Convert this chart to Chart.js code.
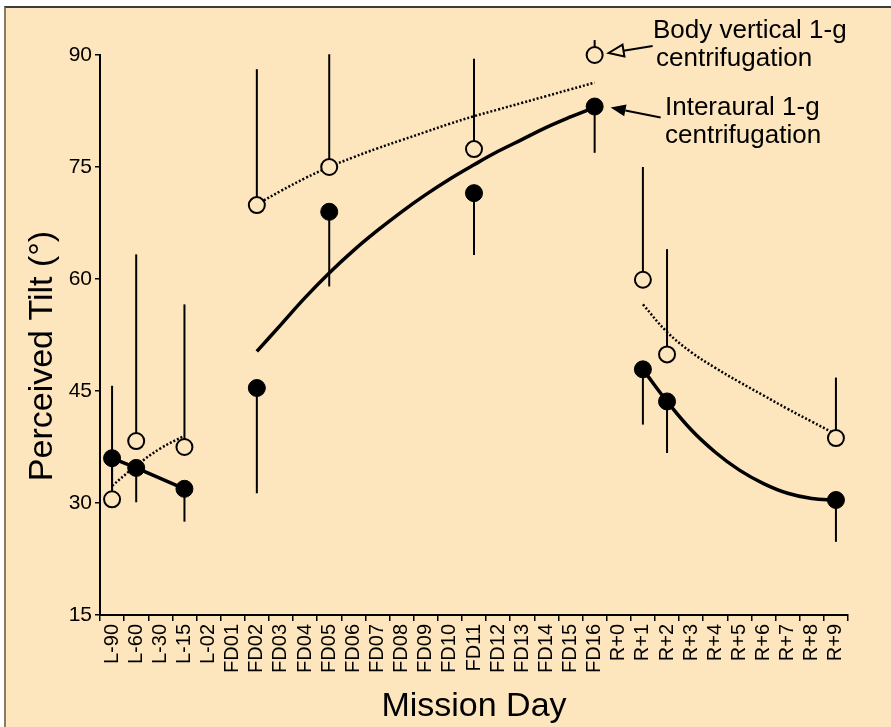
<!DOCTYPE html>
<html lang="en">
<head>
<meta charset="UTF-8">
<title>Perceived Tilt by Mission Day</title>
<script src="https://cdn.jsdelivr.net/npm/chart.js"></script>
<style>
  html, body { margin: 0; padding: 0; background: #fff; }
  .frame { position: absolute; left: 4px; top: 6px; width: 885px; height: 719px; background: #fde5bd; border-left: 2px solid #8b7b66; border-top: 2px solid #3c3c3c; }
  canvas { position: absolute; left: 0; top: 0; }
</style>
</head>
<body>
<div class="frame"></div>
<canvas id="tiltChart" width="891" height="727"></canvas>
<script>
const labels = ['L-90', 'L-60', 'L-30', 'L-15', 'L-02',
  'FD01', 'FD02', 'FD03', 'FD04', 'FD05', 'FD06', 'FD07', 'FD08', 'FD09', 'FD10',
  'FD11', 'FD12', 'FD13', 'FD14', 'FD15', 'FD16',
  'R+0', 'R+1', 'R+2', 'R+3', 'R+4', 'R+5', 'R+6', 'R+7', 'R+8', 'R+9'];

// measured days and means (open = body vertical, filled = interaural)
const measuredDays = ['L-90', 'L-60', 'L-15', 'FD02', 'FD05', 'FD11', 'FD16', 'R+1', 'R+2', 'R+9'];
const bodyVertical = [30.5, 38.3, 37.5, 69.9, 75.0, 77.4, 90.0, 59.9, 49.9, 38.7];
const bodyVerticalUpper = [45.7, 63.3, 56.6, 88.1, 90.1, 89.5, 92.0, 75.0, 64.0, 46.8];
const interaural = [36.0, 34.7, 31.9, 45.4, 69.0, 71.5, 83.1, 47.9, 43.6, 30.4];
const interauralLower = [31.8, 30.1, 27.5, 31.3, 59.0, 63.2, 76.9, 40.5, 36.7, 24.8];

// fitted curves
const preDays = ['L-90', 'L-60', 'L-30', 'L-15'];
const preFitBV = [32.3, 35.0, 37.3, 39.0];
const preFitIADays = ['L-90', 'L-60', 'L-15'];
const preFitIA = [36.0, 34.7, 31.9];
const flightDays = ['FD02', 'FD03', 'FD04', 'FD05', 'FD06', 'FD07', 'FD08', 'FD09', 'FD10', 'FD11', 'FD12', 'FD13', 'FD14', 'FD15', 'FD16'];
const flightFitBV = [70.0, 71.8, 73.5, 75.0, 76.3, 77.5, 78.6, 79.7, 80.8, 81.8, 82.7, 83.6, 84.5, 85.4, 86.3];
const flightFitIA = [50.3, 53.9, 57.5, 60.8, 63.8, 66.5, 69.0, 71.3, 73.4, 75.3, 77.1, 78.7, 80.3, 81.7, 83.0];
const recDays = ['R+1', 'R+2', 'R+3', 'R+4', 'R+5', 'R+6', 'R+7', 'R+8', 'R+9'];
const recFitBV = [56.6, 52.9, 50.2, 48.1, 46.2, 44.4, 42.6, 40.9, 39.2];
const recFitIA = [47.9, 43.6, 39.8, 36.8, 34.4, 32.6, 31.3, 30.6, 30.4];

const yTicks = [15, 30, 45, 60, 75, 90];

const BG = '#fde5bd';
const FONT = '"Liberation Sans", Arial, sans-serif';
const pairs = (days, vals) => days.map((d, i) => ({ x: d, y: vals[i] }));

function fitLine(days, vals, dotted, tension) {
  return {
    type: 'line',
    data: pairs(days, vals),
    borderColor: '#000',
    borderWidth: dotted ? 2.5 : 3.5,
    borderDash: dotted ? [2, 2] : [],
    pointRadius: 0,
    tension: tension,
    fill: false,
    clip: false
  };
}

function arrow(ctx, x1, y1, x2, y2, filled) {
  const a = Math.atan2(y2 - y1, x2 - x1);
  const len = 15, half = 6;
  const bx = x2 - len * Math.cos(a), by = y2 - len * Math.sin(a);
  ctx.beginPath(); ctx.moveTo(x1, y1); ctx.lineTo(bx, by); ctx.stroke();
  ctx.beginPath();
  ctx.moveTo(x2, y2);
  ctx.lineTo(bx + half * Math.sin(a), by - half * Math.cos(a));
  ctx.lineTo(bx - half * Math.sin(a), by + half * Math.cos(a));
  ctx.closePath();
  if (filled) ctx.fill(); else ctx.stroke();
}

const overlay = {
  id: 'overlay',
  beforeDatasetsDraw(chart) {
    const { ctx, scales: { x, y } } = chart;
    ctx.save();
    ctx.strokeStyle = '#000';
    ctx.lineWidth = 2;
    measuredDays.forEach((day, i) => {
      const px = x.getPixelForValue(labels.indexOf(day));
      [[bodyVertical[i], bodyVerticalUpper[i]], [interaural[i], interauralLower[i]]].forEach(([v, end]) => {
        ctx.beginPath();
        ctx.moveTo(px, y.getPixelForValue(v));
        ctx.lineTo(px, y.getPixelForValue(end));
        ctx.stroke();
      });
    });
    ctx.restore();
  },
  afterDraw(chart) {
    const { ctx, scales: { x, y } } = chart;
    ctx.save();
    ctx.strokeStyle = '#000';
    ctx.fillStyle = '#000';
    ctx.lineWidth = 2;
    const k = measuredDays.indexOf('FD16');
    const px = x.getPixelForValue(labels.indexOf('FD16'));
    const bvY = y.getPixelForValue(bodyVertical[k]);
    const iaY = y.getPixelForValue(interaural[k]);
    arrow(ctx, px + 58, bvY - 9, px + 14, bvY - 2, false);
    arrow(ctx, px + 66, iaY + 11, px + 16, iaY + 1, true);

    ctx.font = '26px ' + FONT;
    ctx.textAlign = 'left';
    ctx.textBaseline = 'alphabetic';
    ctx.fillText('Body vertical 1-g', 653, 38);
    ctx.fillText('centrifugation', 656, 66);
    ctx.fillText('Interaural 1-g', 665, 115);
    ctx.fillText('centrifugation', 665, 143);

    // y axis title
    ctx.translate(43, 356);
    ctx.rotate(-Math.PI / 2);
    ctx.textAlign = 'center';
    ctx.textBaseline = 'middle';
    ctx.font = '34px ' + FONT;
    ctx.fillText('Perceived Tilt (°)', 0, 0);
    ctx.restore();
  }
};

Chart.defaults.font.family = FONT;
Chart.defaults.color = '#000';

new Chart(document.getElementById('tiltChart'), {
  type: 'line',
  data: {
    labels: labels,
    datasets: [
      {
        label: 'Interaural 1-g centrifugation',
        data: pairs(measuredDays, interaural),
        showLine: false,
        pointRadius: 8.5,
        pointBackgroundColor: '#000',
        pointBorderColor: '#000',
        pointBorderWidth: 1,
        clip: false
      },
      {
        label: 'Body vertical 1-g centrifugation',
        data: pairs(measuredDays, bodyVertical),
        showLine: false,
        pointRadius: 8,
        pointBackgroundColor: BG,
        pointBorderColor: '#000',
        pointBorderWidth: 2,
        clip: false
      },
      fitLine(preFitIADays, preFitIA, false, 0),
      fitLine(preDays, preFitBV, true, 0.4),
      fitLine(flightDays, flightFitIA, false, 0.4),
      fitLine(flightDays, flightFitBV, true, 0.4),
      fitLine(recDays, recFitIA, false, 0.4),
      fitLine(recDays, recFitBV, true, 0.4)
    ]
  },
  options: {
    responsive: false,
    animation: false,
    devicePixelRatio: 1,
    layout: { padding: { top: 55, right: 43, left: 0, bottom: 0 } },
    plugins: { legend: { display: false }, tooltip: { enabled: false } },
    scales: {
      x: {
        type: 'category',
        offset: true,
        border: { display: true, color: '#000', width: 2 },
        grid: { offset: true, drawOnChartArea: false, drawTicks: true, tickLength: 6, color: '#000', lineWidth: 1.5 },
        ticks: { autoSkip: false, minRotation: 90, maxRotation: 90, padding: 3, font: { size: 20 } },
        title: { display: true, text: 'Mission Day', font: { size: 34 }, padding: { top: 0, bottom: 0 } },
        afterFit(scale) { scale.height = 112; }
      },
      y: {
        min: 15,
        max: 90,
        afterBuildTicks(scale) { scale.ticks = yTicks.map(v => ({ value: v })); },
        border: { display: true, color: '#000', width: 2 },
        grid: { drawOnChartArea: false, drawTicks: true, tickLength: 5, color: '#000', lineWidth: 1.5 },
        ticks: { padding: 3, font: { size: 21 } },
        afterFit(scale) { scale.width = 100; }
      }
    }
  },
  plugins: [overlay]
});
</script>
</body>
</html>
